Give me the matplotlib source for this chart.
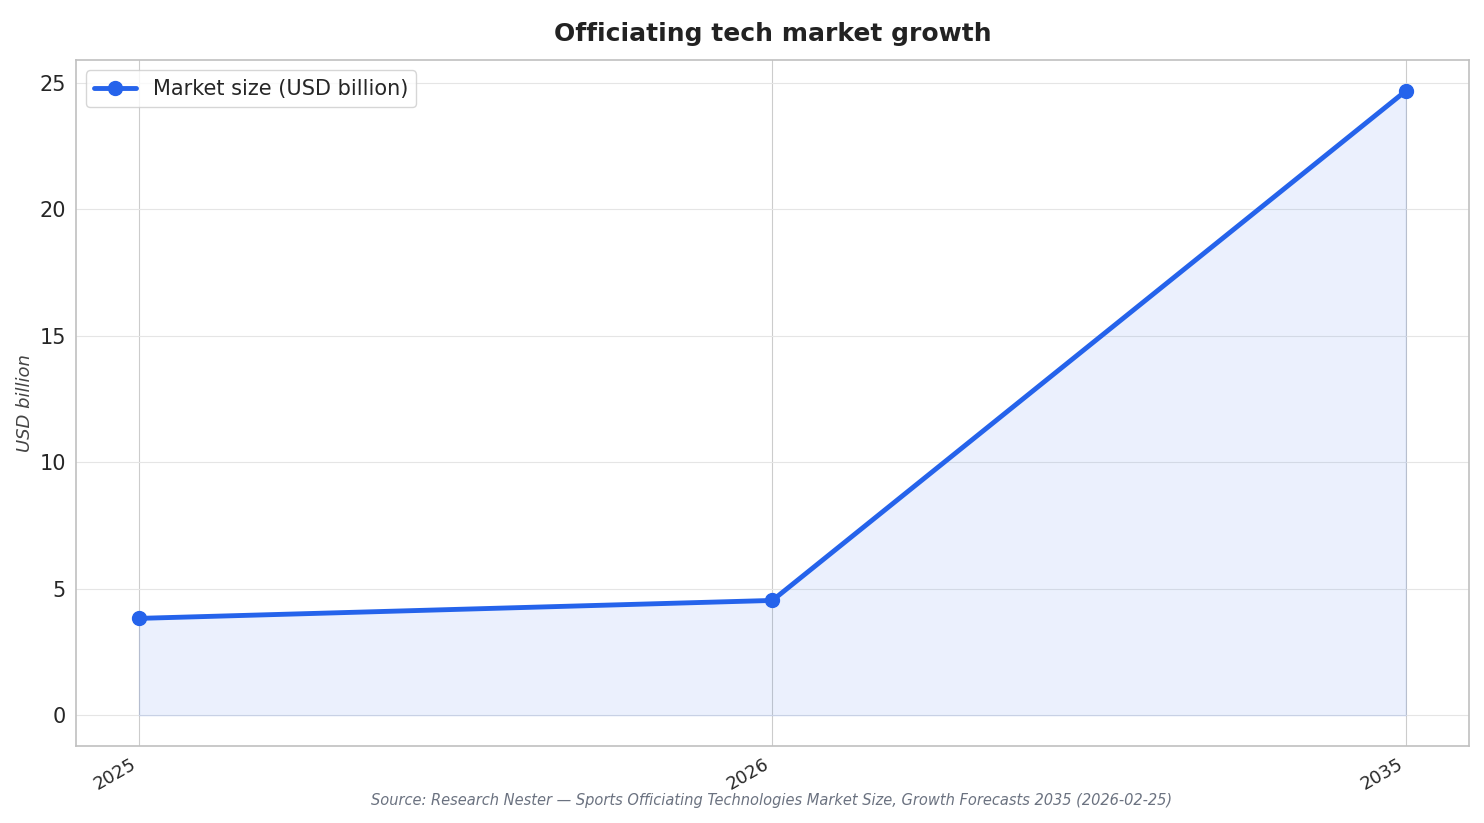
import matplotlib.pyplot as plt
import seaborn as sns

years = ["2025", "2026", "2035"]
market_size = [3.83, 4.54, 24.68]

sns.set_style("whitegrid")
plt.rcParams['font.family'] = ['DejaVu Sans']

fig, ax = plt.subplots(figsize=(14.84, 8.23), dpi=100)
x = list(range(len(years)))
ax.fill_between(x, market_size, 0, color="#2563eb", alpha=0.09)
ax.plot(x, market_size, color="#2563eb", linewidth=3.5, marker="o", markersize=10,
        label="Market size (USD billion)")

ax.set_xticks(x)
ax.set_xticklabels(years, rotation=30, ha="right", fontsize=13)
ax.tick_params(axis="y", labelsize=15)
ax.set_ylim(-1.2, 25.9)
ax.set_xlim(-0.1, 2.1)
ax.grid(True, color="#e5e5e5")
ax.xaxis.grid(True, color="#cccccc")
for s in ax.spines.values():
    s.set_color("#c0c0c0")
    s.set_linewidth(1.2)

ax.set_ylabel("USD billion", fontsize=13, style="italic", color="#444444")
ax.set_title("Officiating tech market growth", fontsize=18, fontweight="bold",
             color="#222222", pad=14)
ax.legend(loc="upper left", fontsize=15, frameon=True)

fig.text(0.52, 0.022, "Source: Research Nester — Sports Officiating Technologies Market Size, Growth Forecasts 2035 (2026-02-25)",
         ha="center", fontsize=10.5, style="italic", color="#6b7280")

fig.subplots_adjust(left=0.051, right=0.99, top=0.927, bottom=0.094)
fig.savefig("out.png", dpi=100)
